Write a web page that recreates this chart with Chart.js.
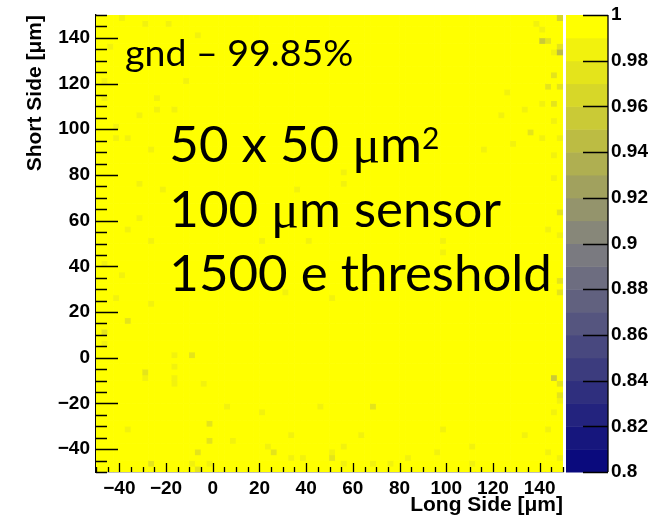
<!DOCTYPE html>
<html>
<head>
<meta charset="utf-8">
<script src="https://cdn.jsdelivr.net/npm/chart.js@4.4.1/dist/chart.umd.min.js"></script>
<style>
  html, body { margin: 0; padding: 0; background: #fff; }
  #wrap { width: 672px; height: 520px; }
</style>
</head>
<body>
<div id="wrap"><canvas id="effMap" width="672" height="520"></canvas></div>
<script>
// pixel efficiency map (gnd), 50x50 um2 cells
const xRange = [-50, 150];
const yRange = [-50, 150];
const binSize = 2.5;
const xTicks = [-40, -20, 0, 20, 40, 60, 80, 100, 120, 140];
const yTicks = [-40, -20, 0, 20, 40, 60, 80, 100, 120, 140];
const zTicks = [0.8, 0.82, 0.84, 0.86, 0.88, 0.9, 0.92, 0.94, 0.96, 0.98, 1];
const zRange = [0.8, 1];
const plateauEff = 0.998;

// bins that come out darker than the plateau: [x, y, efficiency]
const lowCells = [
  [138, 146, 0.985], [141, 143, 0.985], [141, 137.7, 0.955], [143, 137.7, 0.975],
  [149, 148.6, 0.965], [149, 133, 0.945], [149, 136, 0.975], [146, 134, 0.985],
  [146, 123, 0.975], [144, 119, 0.97], [148.5, 119, 0.97], [146, 112, 0.975],
  [141, 111, 0.985], [125, 116, 0.985], [123, 106, 0.985], [135.5, 99, 0.975],
  [146, 103, 0.985], [132.5, 109, 0.985], [129.6, 92.6, 0.985], [141, 95, 0.985],
  [149, 96.5, 0.985], [116.7, 90, 0.985], [146.8, 88, 0.985], [146, 79, 0.985],
  [149, 63, 0.975], [144.6, 56, 0.985], [148.5, 54.5, 0.985], [149.8, 34, 0.97],
  [149.8, 28.7, 0.975], [146, -9, 0.955], [149, -12, 0.97], [143, -31, 0.985],
  [149, -16, 0.975],
  [-30, -10, 0.985], [-16.5, -11, 0.985], [-3.7, -12, 0.985], [-35.5, -31, 0.985],
  [-0.7, -28, 0.975], [-0.7, -35.6, 0.975], [-6.3, -41, 0.975], [-27, -46, 0.975],
  [-8.9, -46, 0.985], [-6.3, -48.7, 0.975], [-0.7, -46, 0.985], [9.5, -35.6, 0.985],
  [7, -22.5, 0.985], [20, -25, 0.985], [34, -33, 0.985], [23, -38, 0.985],
  [26, -41, 0.975], [34, -44, 0.985], [39, -44, 0.985], [47, -22.5, 0.985],
  [50, -41, 0.985], [50, -43.5, 0.97], [56, -38, 0.985], [63, -33, 0.985],
  [69, -22.5, 0.975], [55.6, -46, 0.985], [69, -46, 0.985], [146, -25, 0.985],
  [149, -20, 0.985], [132.6, -33, 0.985], [98, -31, 0.985], [111, -38, 0.985],
  [95, -41, 0.985], [84.5, -43.5, 0.985], [143, -41, 0.985], [149, -44, 0.985],
  [77, -46, 0.985], [110, -46, 0.985],
  [-38, 149, 0.985], [-29, 146.5, 0.985], [-19, 146.5, 0.985], [-6, 141, 0.985],
  [-44, 135.5, 0.985], [-46.5, 122, 0.985], [-12, 122, 0.985], [-25, 114, 0.985],
  [-25, 109, 0.985], [-16, 109, 0.985], [-32, 106, 0.985], [-41, 100.5, 0.985],
  [-41, 95, 0.985], [-35.5, 95, 0.985], [-27, 92, 0.985], [-32, 77, 0.985],
  [-21.7, 74, 0.985], [-32, 60.6, 0.985], [-35.5, 55.4, 0.985], [-27, 52, 0.985],
  [-46.5, 112.6, 0.985], [-46, 42, 0.985], [-38, 36, 0.985], [-41, 26, 0.985],
  [-27, 23, 0.985], [-35.5, 15, 0.975], [-46, 12, 0.975], [-46, 7, 0.985],
  [-16.5, 1, 0.985], [-9, 0, 0.975], [-16.5, -4, 0.985], [-30, -6, 0.975],
  [-16.5, -8, 0.985], [-6, -41, 0.975],
  [55.5, 82, 0.985], [55.5, 76, 0.985], [37, 74, 0.985], [21, 50, 0.985],
  [40, 50, 0.985], [98, 51, 0.985], [98, 47, 0.985], [31, 29, 0.985],
  [52, 26.5, 0.985]
];

// palette: navy -> grey -> yellow, 20 contour levels
const paletteStops = [[10, 10, 125], [128, 128, 128], [255, 255, 0]];
const nLevels = 20;

function levelColor(i) {
  const t = i / (nLevels - 1);
  const a = t < 0.5 ? paletteStops[0] : paletteStops[1];
  const b = t < 0.5 ? paletteStops[1] : paletteStops[2];
  const s = t < 0.5 ? t / 0.5 : (t - 0.5) / 0.5;
  const c = a.map((v, k) => Math.round(v + (b[k] - v) * s));
  return `rgb(${c[0]},${c[1]},${c[2]})`;
}
function effColor(v) {
  let i = Math.floor((v - zRange[0]) / (zRange[1] - zRange[0]) * nLevels + 1e-9);
  i = Math.max(0, Math.min(nLevels - 1, i));
  return levelColor(i);
}

const nx = Math.round((xRange[1] - xRange[0]) / binSize);
const ny = Math.round((yRange[1] - yRange[0]) / binSize);
const lowByBin = new Map();
lowCells.forEach(([x, y, v]) => {
  const ix = Math.floor((x - xRange[0]) / binSize);
  const iy = Math.floor((y - yRange[0]) / binSize);
  lowByBin.set(ix + ',' + iy, v);
});
const cells = [];
for (let ix = 0; ix < nx; ix++) {
  for (let iy = 0; iy < ny; iy++) {
    const x0 = xRange[0] + ix * binSize;
    const y0 = yRange[0] + iy * binSize;
    const v = lowByBin.has(ix + ',' + iy) ? lowByBin.get(ix + ',' + iy) : plateauEff;
    cells.push({ x: x0 + binSize / 2, y: [y0, y0 + binSize], v: v });
  }
}

const rootFont = 'Liberation Sans, Arial, Helvetica, sans-serif';
const fmtTick = (v) => String(+v.toFixed(2)).replace('-', '\u2212');
const noPad = (s) => { s.paddingTop = 0; s.paddingBottom = 0; s.paddingLeft = 0; s.paddingRight = 0; };

// inward ticks, ROOT style
const frameTicks = {
  id: 'frameTicks',
  afterDraw(chart) {
    const { ctx, chartArea: a, scales: { x, y } } = chart;
    ctx.save();
    ctx.strokeStyle = '#000';
    ctx.lineWidth = 1.3;
    ctx.beginPath();
    for (let v = xRange[0]; v <= xRange[1]; v += 5) {
      const px = Math.round(x.getPixelForValue(v)) + 0.5;
      const len = v % 20 === 0 ? 9 : 5;
      ctx.moveTo(px, a.bottom);
      ctx.lineTo(px, a.bottom - len);
    }
    for (let v = yRange[0]; v <= yRange[1]; v += 5) {
      const py = Math.round(y.getPixelForValue(v)) + 0.5;
      const len = v % 20 === 0 ? 22 : 11;
      ctx.moveTo(a.left, py);
      ctx.lineTo(a.left + len, py);
    }
    ctx.stroke();
    ctx.restore();
  }
};

// palette axis on the right
const colorBar = {
  id: 'colorBar',
  afterDraw(chart) {
    const { ctx, chartArea: a, scales: { z } } = chart;
    const left = a.right + 3, right = a.right + 45;
    ctx.save();
    for (let i = 0; i < nLevels; i++) {
      const lo = zRange[0] + i * (zRange[1] - zRange[0]) / nLevels;
      const hi = zRange[0] + (i + 1) * (zRange[1] - zRange[0]) / nLevels;
      const yTop = z.getPixelForValue(hi), yBot = z.getPixelForValue(lo);
      ctx.fillStyle = levelColor(i);
      ctx.fillRect(left, yTop, right - left, yBot - yTop + 0.5);
    }
    ctx.strokeStyle = '#000';
    ctx.lineWidth = 1.3;
    ctx.beginPath();
    ctx.moveTo(right, z.top);
    ctx.lineTo(right, z.bottom);
    zTicks.forEach((v) => {
      const py = Math.round(z.getPixelForValue(v)) + 0.5;
      ctx.moveTo(right - 25, py);
      ctx.lineTo(right, py);
    });
    ctx.stroke();
    ctx.restore();
  }
};

// slide annotations
const labels = {
  id: 'labels',
  afterDraw(chart) {
    const { ctx, scales: { x, y } } = chart;
    const sans = 'Lato, "Open Sans", sans-serif';
    const serif = '"Liberation Serif", "DejaVu Serif", serif';
    const runs = (parts, px, py) => {
      let cx = px;
      parts.forEach(([text, font, dy]) => {
        ctx.font = font;
        ctx.fillText(text, cx, py - (dy || 0));
        cx += ctx.measureText(text).width;
      });
    };
    ctx.save();
    ctx.fillStyle = '#000';
    ctx.textBaseline = 'alphabetic';
    ctx.textAlign = 'left';
    runs([['gnd \u2013 99.85%', '37.5px ' + sans]], x.getPixelForValue(-37.6), y.getPixelForValue(127.6));
    const x0 = x.getPixelForValue(-18.6);
    runs([['50 x 50 ', '51px ' + sans], ['\u03bc', '52px ' + serif], ['m', '51px ' + sans], ['2', '30px ' + sans, 13]],
      x0, y.getPixelForValue(85.6));
    runs([['100 ', '51px ' + sans], ['\u03bc', '52px ' + serif], ['m sensor', '51px ' + sans]],
      x0, y.getPixelForValue(57.2));
    runs([['1500 e threshold', '51px ' + sans]], x0, y.getPixelForValue(29.2));
    ctx.restore();
  }
};

new Chart(document.getElementById('effMap'), {
  type: 'bar',
  data: {
    datasets: [{
      data: cells,
      xAxisID: 'x',
      yAxisID: 'y',
      backgroundColor: (c) => effColor(c.raw ? c.raw.v : plateauEff),
      borderWidth: 0,
      barPercentage: 1,
      categoryPercentage: 1
    }]
  },
  options: {
    responsive: false,
    animation: false,
    events: [],
    layout: { padding: { top: 15, left: 0, right: 0, bottom: 0 } },
    plugins: { legend: { display: false }, tooltip: { enabled: false } },
    scales: {
      x: {
        type: 'linear', min: xRange[0], max: xRange[1], offset: false, z: 1,
        grid: { display: false, drawTicks: false },
        border: { color: '#000', width: 1.3 },
        afterBuildTicks: (s) => { s.ticks = xTicks.map((v) => ({ value: v })); },
        afterFit: (s) => { s.height = 48; noPad(s); },
        ticks: { padding: 5, color: '#000', font: { family: rootFont, weight: 'bold', size: 19 }, callback: fmtTick, maxRotation: 0, autoSkip: false },
        title: { display: true, text: 'Long Side [\u03bcm]', align: 'end', color: '#000', padding: { top: 0, bottom: 2 }, font: { family: rootFont, weight: 'bold', size: 21 } }
      },
      y: {
        type: 'linear', min: yRange[0], max: yRange[1], z: 1,
        grid: { display: false, drawTicks: false },
        border: { color: '#000', width: 1.3 },
        afterBuildTicks: (s) => { s.ticks = yTicks.map((v) => ({ value: v })); },
        afterFit: (s) => { s.width = 96; noPad(s); },
        ticks: { padding: 6, color: '#000', font: { family: rootFont, weight: 'bold', size: 19 }, callback: fmtTick, autoSkip: false },
        title: { display: true, text: 'Short Side [\u03bcm]', align: 'end', color: '#000', padding: { top: 23, bottom: 0 }, font: { family: rootFont, weight: 'bold', size: 21 } }
      },
      z: {
        type: 'linear', position: 'right', min: zRange[0], max: zRange[1],
        grid: { display: false, drawTicks: false },
        border: { display: false },
        afterBuildTicks: (s) => { s.ticks = zTicks.map((v) => ({ value: v })); },
        afterFit: (s) => { s.width = 109; noPad(s); },
        ticks: { padding: 48, color: '#000', font: { family: rootFont, weight: 'bold', size: 19 }, callback: fmtTick, autoSkip: false }
      }
    }
  },
  plugins: [frameTicks, colorBar, labels]
});
</script>
</body>
</html>
